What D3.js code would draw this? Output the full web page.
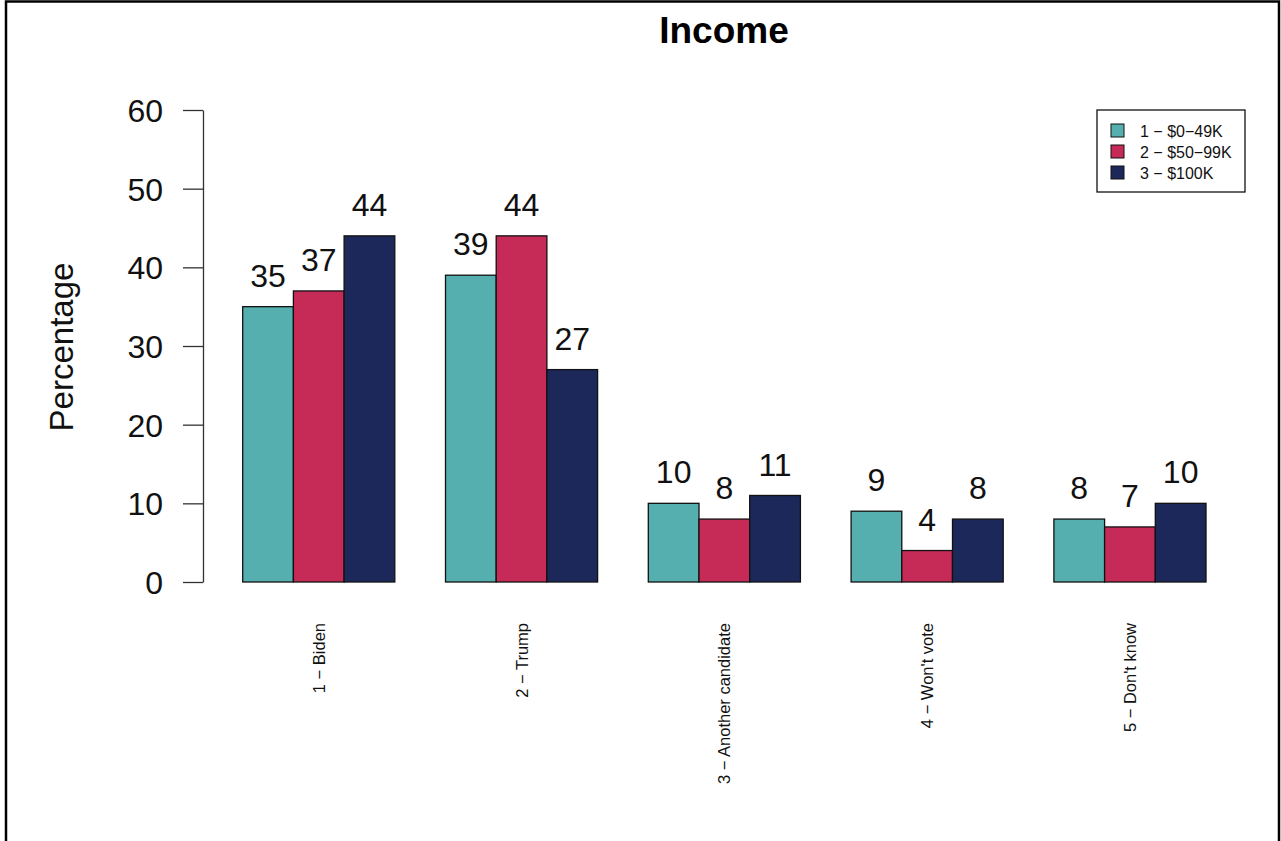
<!DOCTYPE html>
<html>
<head>
<meta charset="utf-8">
<script src="https://cdn.jsdelivr.net/npm/d3@7"></script>
<style>
  body { margin: 0; background: #fff; }
  svg { display: block; font-family: "Liberation Sans", Arial, sans-serif; }
</style>
</head>
<body>
<svg width="1281" height="841"></svg>
<script>
// data
var categories = ["1 \u2212 Biden", "2 \u2212 Trump", "3 \u2212 Another candidate", "4 \u2212 Won't vote", "5 \u2212 Don't know"];
var groups = ["1 \u2212 $0\u221249K", "2 \u2212 $50\u221299K", "3 \u2212 $100K"];
var low = [35, 39, 10, 9, 8];
var mid = [37, 44, 8, 4, 7];
var high = [44, 27, 11, 8, 10];
var yTicks = [0, 10, 20, 30, 40, 50, 60];
var colors = ["#56AFAF", "#C62B58", "#1D285A"];

var series = [low, mid, high];

var svg = d3.select("svg"),
  width = +svg.attr("width"),
  height = +svg.attr("height");

// frame (no bottom edge)
svg.append("path")
  .attr("d", "M6,841 V1.5 H1279 V841")
  .attr("fill", "none")
  .attr("stroke", "#000")
  .attr("stroke-width", 2.5);

// 标题
svg.append("text")
  .attr("x", 724)
  .attr("y", 43)
  .attr("text-anchor", "middle")
  .style("font-size", "37px")
  .style("font-weight", "bold")
  .text("Income");

var y = d3.scaleLinear().domain([0, 60]).range([582, 110]);

// group bands: each group has 1 unit gap + 3 bars
var x0 = d3.scaleBand()
  .domain(categories)
  .range([192, 1206])
  .paddingInner(0)
  .paddingOuter(0);
var unit = x0.bandwidth() / 4;
var x1 = d3.scaleBand()
  .domain(groups)
  .range([unit, 4 * unit]);

// y axis
var yAxis = d3.axisLeft(y).tickValues(yTicks).tickSize(20).tickPadding(20).tickSizeOuter(0);
var gy = svg.append("g")
  .attr("transform", "translate(203,0)")
  .call(yAxis);
gy.select(".domain").attr("stroke", "#333").attr("stroke-width", 1.3);
gy.selectAll(".tick line").attr("stroke", "#333").attr("stroke-width", 1.3);
gy.selectAll(".tick text")
  .style("font-size", "32px")
  .attr("fill", "#111")
  .attr("font-family", "Liberation Sans, Arial, sans-serif")
  .attr("dy", "0.36em");

// y label
svg.append("text")
  .attr("transform", "translate(73,347) rotate(-90)")
  .attr("text-anchor", "middle")
  .style("font-size", "33px")
  .attr("fill", "#111")
  .text("Percentage");

// bars
var rows = [];
categories.forEach(function (c, i) {
  groups.forEach(function (g, j) {
    rows.push({cat: c, grp: g, value: series[j][i], color: colors[j]});
  });
});

var bars = svg.append("g");
bars.selectAll("rect")
  .data(rows)
  .enter()
  .append("rect")
  .attr("x", function (d) { return x0(d.cat) + x1(d.grp); })
  .attr("y", function (d) { return y(d.value); })
  .attr("width", x1.bandwidth())
  .attr("height", function (d) { return y(0) - y(d.value); })
  .attr("fill", function (d) { return d.color; })
  .attr("stroke", "#111")
  .attr("stroke-width", 1.3);

// value labels
bars.selectAll("text")
  .data(rows)
  .enter()
  .append("text")
  .attr("x", function (d) { return x0(d.cat) + x1(d.grp) + x1.bandwidth() / 2; })
  .attr("y", function (d) { return y(d.value + 4); })
  .attr("dy", "0.36em")
  .attr("text-anchor", "middle")
  .style("font-size", "32px")
  .attr("fill", "#111")
  .text(function (d) { return d.value; });

// category labels (rotated)
svg.append("g")
  .selectAll("text")
  .data(categories)
  .enter()
  .append("text")
  .attr("transform", function (d) {
    return "translate(" + (x0(d) + unit * 2.5 + 6) + ",623) rotate(-90)";
  })
  .attr("text-anchor", "end")
  .style("font-size", "16.5px")
  .attr("fill", "#111")
  .text(function (d) { return d; });

// legend
var legend = svg.append("g").attr("transform", "translate(1097,110)");
legend.append("rect")
  .attr("width", 148)
  .attr("height", 82)
  .attr("fill", "#fff")
  .attr("stroke", "#111")
  .attr("stroke-width", 1.3);
var items = legend.selectAll("g.item")
  .data(groups)
  .enter()
  .append("g")
  .attr("transform", function (d, i) { return "translate(14," + (14 + i * 21) + ")"; });
items.append("rect")
  .attr("width", 13)
  .attr("height", 13)
  .attr("fill", function (d, i) { return colors[i]; })
  .attr("stroke", "#111")
  .attr("stroke-width", 1);
items.append("text")
  .attr("x", 29)
  .attr("y", 7)
  .attr("dy", "0.36em")
  .style("font-size", "16px")
  .attr("fill", "#111")
  .text(function (d) { return d; });
</script>
</body>
</html>
